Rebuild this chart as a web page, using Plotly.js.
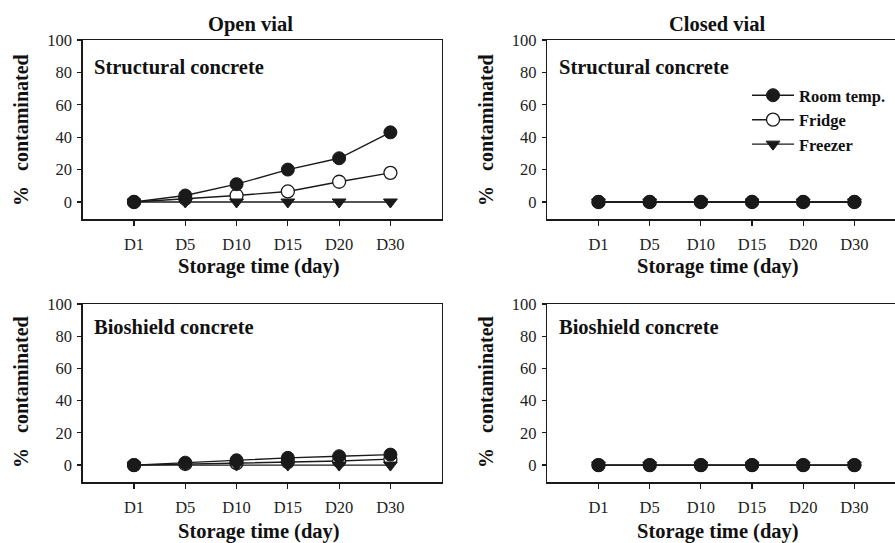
<!DOCTYPE html>
<html>
<head>
<meta charset="utf-8">
<script src="https://cdn.plot.ly/plotly-3.0.1.min.js"></script>
<style>
html,body{margin:0;padding:0;overflow:hidden;background:#fff;}
#chart{width:906px;height:543px;}
</style>
</head>
<body>
<div id="chart"></div>
<script>
// ---- data ----
const days = ['D1', 'D5', 'D10', 'D15', 'D20', 'D30'];
const openStructRoom    = [0, 4, 11, 20, 27, 43];
const openStructFridge  = [0, 2, 4, 6.5, 12.5, 18];
const openStructFreezer = [0, 0, 0, 0, 0, 0];
const openBioRoom       = [0, 1.5, 3, 4.5, 5.5, 6.5];
const openBioFridge     = [0, 0.7, 1.2, 2, 2.5, 3.7];
const openBioFreezer    = [0, 0, 0, 0, 0, 0];
const closedStructRoom    = [0, 0, 0, 0, 0, 0];
const closedStructFridge  = [0, 0, 0, 0, 0, 0];
const closedStructFreezer = [0, 0, 0, 0, 0, 0];
const closedBioRoom       = [0, 0, 0, 0, 0, 0];
const closedBioFridge     = [0, 0, 0, 0, 0, 0];
const closedBioFreezer    = [0, 0, 0, 0, 0, 0];
const seriesNames = ['Room temp.', 'Fridge', 'Freezer'];
const panelLabels = ['Structural concrete', 'Structural concrete', 'Bioshield concrete', 'Bioshield concrete'];
const columnTitles = ['Open vial', 'Closed vial'];
const yTicks = [0, 20, 40, 60, 80, 100];

const W = 906, H = 543;
const ink = '#1a1a1a';
const serif = '"Liberation Serif", "Times New Roman", serif';

const markerStyles = [
  {symbol: 'circle', size: 13, color: ink, line: {color: ink, width: 1}},
  {symbol: 'circle', size: 13, color: '#ffffff', line: {color: ink, width: 1.3}},
  {symbol: 'triangle-down', size: 12, color: ink, line: {color: ink, width: 1}}
];
// drawing order: fridge below room temp., freezer on top
const drawOrder = [1, 0, 2];

const panels = [
  {xa: 'x',  ya: 'y',  data: [openStructRoom, openStructFridge, openStructFreezer], legend: true},
  {xa: 'x2', ya: 'y2', data: [closedStructRoom, closedStructFridge, closedStructFreezer], legend: false},
  {xa: 'x3', ya: 'y3', data: [openBioRoom, openBioFridge, openBioFreezer], legend: false},
  {xa: 'x4', ya: 'y4', data: [closedBioRoom, closedBioFridge, closedBioFreezer], legend: false}
];

const traces = [];
panels.forEach(p => {
  drawOrder.forEach(i => {
    traces.push({
      type: 'scatter', mode: 'lines+markers',
      x: days, y: p.data[i], xaxis: p.xa, yaxis: p.ya,
      name: seriesNames[i], showlegend: p.legend, legendrank: i + 1,
      line: {color: ink, width: 1.4},
      marker: markerStyles[i],
      cliponaxis: false
    });
  });
});

// pixel geometry
const leftX = [82.7, 441.7];
const rightX = [547.3, 905.6];
const topY = [40, 219];
const botY = [304, 482];
const fx = v => v / W;
const fy = v => 1 - v / H;

function xaxis(dom, anchor) {
  return {
    domain: [fx(dom[0]), fx(dom[1])], anchor: anchor,
    type: 'category', categoryarray: days, range: [-1, 6],
    showline: true, linecolor: ink, linewidth: 1.5, mirror: true,
    ticks: 'outside', ticklen: 5, tickwidth: 1.2, tickcolor: ink,
    ticklabelstandoff: 5,
    showgrid: false, zeroline: false, fixedrange: true,
    tickfont: {family: serif, size: 16.5, color: '#222'}
  };
}
function yaxis(dom, anchor) {
  return {
    domain: [fy(dom[1]), fy(dom[0])], anchor: anchor,
    range: [-10.5, 100], tickvals: yTicks,
    showline: true, linecolor: ink, linewidth: 1.5, mirror: true,
    ticks: 'outside', ticklen: 4, tickwidth: 1.2, tickcolor: ink,
    ticklabelstandoff: 2,
    showgrid: false, zeroline: false, fixedrange: true,
    tickfont: {family: serif, size: 16.5, color: '#222'}
  };
}

const annotations = [];
const boldFont = s => ({family: serif, size: s, color: '#111', weight: 'bold'});
// column titles
annotations.push({text: '<b>' + columnTitles[0] + '</b>', xref: 'paper', yref: 'paper', x: fx(250), y: fy(24), showarrow: false, font: boldFont(20.5), xanchor: 'center', yanchor: 'middle'});
annotations.push({text: '<b>' + columnTitles[1] + '</b>', xref: 'paper', yref: 'paper', x: fx(717), y: fy(23.5), showarrow: false, font: boldFont(20.5), xanchor: 'center', yanchor: 'middle'});
// panel labels
[[92, 67], [557, 67], [92, 327], [557, 327]].forEach((pos, i) => {
  annotations.push({text: '<b>' + panelLabels[i] + '</b>', xref: 'paper', yref: 'paper', x: fx(pos[0]), y: fy(pos[1]), showarrow: false, font: boldFont(20.5), xanchor: 'left', yanchor: 'middle'});
});
// x axis titles
[[259, 266], [718, 266], [259, 531], [718, 531]].forEach(pos => {
  annotations.push({text: '<b>Storage time (day)</b>', xref: 'paper', yref: 'paper', x: fx(pos[0]), y: fy(pos[1]), showarrow: false, font: boldFont(20.5), xanchor: 'center', yanchor: 'middle'});
});
// y axis titles
[[21, 130], [486, 130], [21, 392], [486, 392]].forEach(pos => {
  annotations.push({text: '<b>%   contaminated</b>', xref: 'paper', yref: 'paper', x: fx(pos[0]), y: fy(pos[1]), showarrow: false, font: boldFont(20), textangle: -90, xanchor: 'center', yanchor: 'middle'});
});

const layout = {
  width: W, height: H,
  margin: {l: 0, r: 0, t: 0, b: 0},
  paper_bgcolor: '#ffffff', plot_bgcolor: '#ffffff',
  showlegend: true,
  legend: {
    x: fx(747), y: fy(78), xanchor: 'left', yanchor: 'top',
    bgcolor: 'rgba(0,0,0,0)', borderwidth: 0,
    itemwidth: 42, tracegroupgap: 0, traceorder: 'normal',
    font: {family: serif, size: 16.5, color: '#111', weight: 'bold'}
  },
  xaxis: xaxis(leftX, 'y'),
  yaxis: yaxis(topY, 'x'),
  xaxis2: xaxis(rightX, 'y2'),
  yaxis2: yaxis(topY, 'x2'),
  xaxis3: xaxis(leftX, 'y3'),
  yaxis3: yaxis(botY, 'x3'),
  xaxis4: xaxis(rightX, 'y4'),
  yaxis4: yaxis(botY, 'x4'),
  annotations: annotations
};

Plotly.newPlot('chart', traces, layout, {displayModeBar: false, staticPlot: true});
</script>
</body>
</html>
